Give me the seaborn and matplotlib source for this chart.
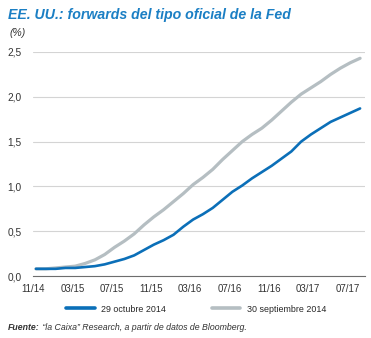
import numpy as np
import pandas as pd
import matplotlib
matplotlib.use("Agg")
import matplotlib.pyplot as plt
import seaborn as sns

# Months elapsed since November 2014 (monthly forward points)
months = [0.3 + i for i in range(34)]

# Implied Fed funds forwards (%) by curve date
oct_2014 = [0.08, 0.08, 0.08, 0.09, 0.09, 0.10, 0.11, 0.13, 0.16, 0.19,
            0.23, 0.29, 0.35, 0.40, 0.46, 0.55, 0.63, 0.69, 0.76, 0.85,
            0.94, 1.01, 1.09, 1.16, 1.23, 1.31, 1.39, 1.50, 1.58, 1.65,
            1.72, 1.77, 1.82, 1.87]
sep_2014 = [0.08, 0.08, 0.09, 0.10, 0.11, 0.14, 0.18, 0.24, 0.32, 0.39,
            0.47, 0.57, 0.66, 0.74, 0.83, 0.92, 1.02, 1.10, 1.19, 1.30,
            1.40, 1.50, 1.58, 1.65, 1.74, 1.84, 1.94, 2.03, 2.10, 2.17,
            2.25, 2.32, 2.38, 2.43]

series_labels = ["29 octubre 2014", "30 septiembre 2014"]
x_tick_pos = [0, 4, 8, 12, 16, 20, 24, 28, 32]
x_tick_labels = ["11/14", "03/15", "07/15", "11/15", "03/16",
                 "07/16", "11/16", "03/17", "07/17"]
y_ticks = [0.0, 0.5, 1.0, 1.5, 2.0, 2.5]

BLUE = "#0b6fb8"
GRAY = "#b5bec2"
TITLE_BLUE = "#1b7fc4"
TEXT = "#333333"

sns.set_theme(style="white")
plt.rcParams["font.family"] = ["Liberation Sans", "DejaVu Sans"]

fig = plt.figure(figsize=(3.71, 3.38), dpi=100)
ax = fig.add_axes([33 / 371, 1 - 276 / 338, 332 / 371, 224 / 338])

df = pd.DataFrame({
    "mes": months * 2,
    "tipo": oct_2014 + sep_2014,
    "serie": [series_labels[0]] * len(months) + [series_labels[1]] * len(months),
})

sns.lineplot(data=df[df["serie"] == series_labels[1]], x="mes", y="tipo",
             color=GRAY, linewidth=2.3, ax=ax, legend=False)
sns.lineplot(data=df[df["serie"] == series_labels[0]], x="mes", y="tipo",
             color=BLUE, linewidth=1.9, ax=ax, legend=False)

ax.set_xlim(0, 33.8)
ax.set_ylim(0, 2.5)
ax.set_xlabel("")
ax.set_ylabel("")
ax.set_xticks(x_tick_pos)
ax.set_xticklabels(x_tick_labels)
ax.set_yticks(y_ticks)
ax.set_yticklabels([f"{v:.1f}".replace(".", ",") for v in y_ticks])
ax.grid(axis="y", color="#d4d4d4", linewidth=0.8)
ax.set_axisbelow(True)
for side in ["top", "right", "left"]:
    ax.spines[side].set_visible(False)
ax.spines["bottom"].set_color("#6d6d6d")
ax.spines["bottom"].set_linewidth(0.8)
ax.tick_params(axis="x", direction="inout", length=4, width=0.8,
               colors="#6d6d6d", labelcolor=TEXT, labelsize=7, pad=4)
ax.tick_params(axis="y", length=0, labelcolor=TEXT, labelsize=7.3, pad=8)

# Title and unit label
fig.text(8 / 371, 1 - 15 / 338, "EE. UU.: forwards del tipo oficial de la Fed",
         color=TITLE_BLUE, fontsize=10.2, fontweight="bold", fontstyle="italic",
         va="center", ha="left")
fig.text(10 / 371, 1 - 33 / 338, "(%)", color=TEXT, fontsize=7.5,
         fontstyle="italic", va="center", ha="left")

# Legend below the axis
handles = [plt.Line2D([], [], color=BLUE, linewidth=2.6),
           plt.Line2D([], [], color=GRAY, linewidth=2.6)]
fig.legend(handles, series_labels, loc="center", ncol=2,
           bbox_to_anchor=(196 / 371, 1 - 309 / 338), frameon=False,
           fontsize=6.4, handlelength=3.2, columnspacing=5.2, handletextpad=0.7)

# Source note: bold lead-in followed by regular italic text
src_head = fig.text(8 / 371, 1 - 328 / 338, "Fuente:", color=TEXT, fontsize=6.3,
                    fontweight="bold", fontstyle="italic", va="center", ha="left")
ax.annotate(" \u201cla Caixa\u201d Research, a partir de datos de Bloomberg.",
            xy=(1, 0.5), xycoords=src_head, va="center", ha="left",
            color=TEXT, fontsize=6.3, fontstyle="italic", annotation_clip=False)

fig.savefig("out.png", dpi=100)
